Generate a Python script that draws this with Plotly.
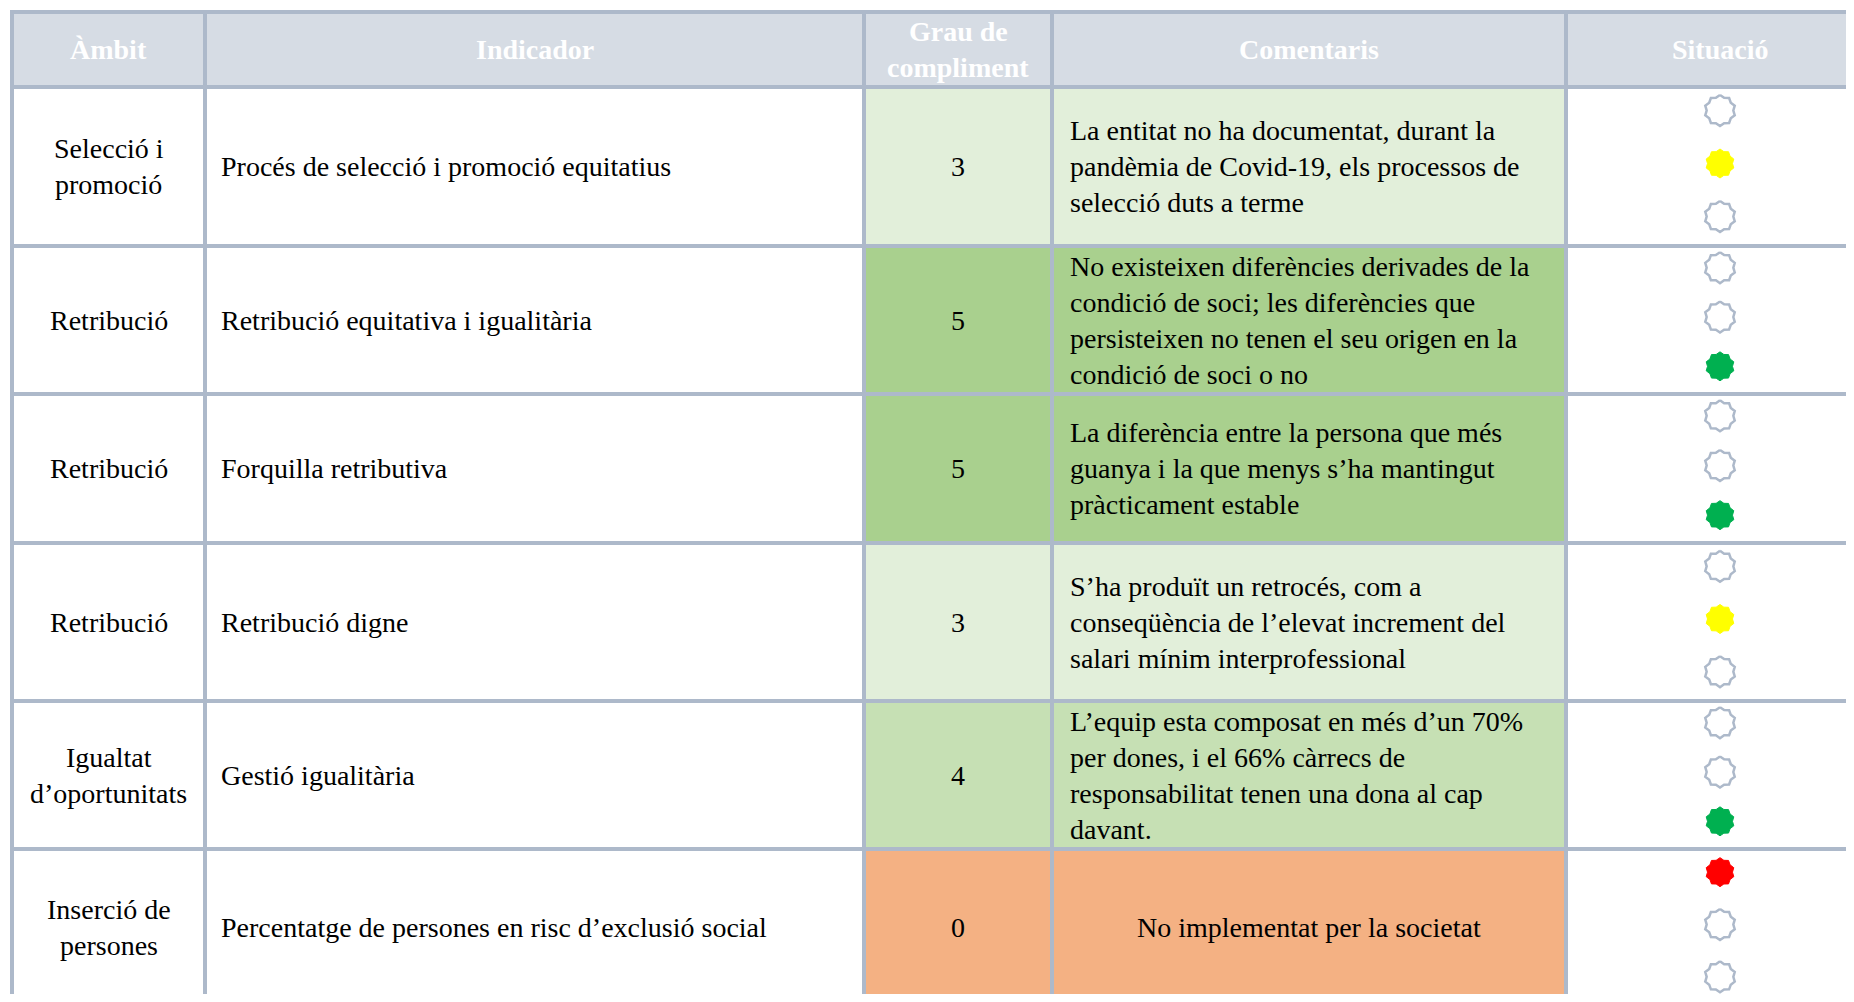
import math
import plotly.graph_objects as go

# ---------------- data ----------------
headers = [["Àmbit"], ["Indicador"], ["Grau de", "compliment"], ["Comentaris"], ["Situació"]]
ambits = [
    ["Selecció i", "promoció"],
    ["Retribució"],
    ["Retribució"],
    ["Retribució"],
    ["Igualtat", "d’oportunitats"],
    ["Inserció de", "persones"],
]
indicadors = [
    "Procés de selecció i promoció equitatius",
    "Retribució equitativa i igualitària",
    "Forquilla retributiva",
    "Retribució digne",
    "Gestió igualitària",
    "Percentatge de persones en risc d’exclusió social",
]
grau = [3, 5, 5, 3, 4, 0]
comentaris = [
    ["La entitat no ha documentat, durant la", "pandèmia de Covid-19, els processos de", "selecció duts a terme"],
    ["No existeixen diferències derivades de la", "condició de soci; les diferències que",
     "persisteixen no tenen el seu origen en la", "condició de soci o no"],
    ["La diferència entre la persona que més", "guanya i la que menys s’ha mantingut", "pràcticament estable"],
    ["S’ha produït un retrocés, com a", "conseqüència de l’elevat increment del", "salari mínim interprofessional"],
    ["L’equip esta composat en més d’un 70%", "per dones, i el 66% càrrecs de",
     "responsabilitat tenen una dona al cap", "davant."],
    ["No implementat per la societat"],
]
comment_centered = [False, False, False, False, False, True]
# traffic light: 0 = top (red), 1 = middle (yellow), 2 = bottom (green)
situacio = [1, 2, 2, 1, 2, 0]

# ---------------- layout constants ----------------
W, H = 1854, 1002
OFF = 8  # page body margin
FW, FH = W - 2 * OFF, H - 2 * OFF
col_edges = [12, 205, 864, 1052, 1566, 1900]
row_edges = [12, 87, 246, 394, 543, 701, 849, 1006]
border_col = "#adb9ca"
header_fill = "#d6dce4"
grau_colors = {0: "#f4b183", 3: "#e2efda", 4: "#c6e0b4", 5: "#a9d08e"}
light_colors = ["#ff0000", "#ffff00", "#00b050"]
FONT = "Liberation Serif"
FS = 28
LINE = 36

fig = go.Figure()
shapes = []
annos = []


def rect(x0, x1, y0, y1, color):
    shapes.append(dict(type="rect", xref="x", yref="y", x0=x0, x1=x1, y0=y0, y1=y1,
                       fillcolor=color, line=dict(width=0), layer="below"))


def lines_text(lines, x, yc, anchor, color="black", bold=False):
    n = len(lines)
    for i, t in enumerate(lines):
        y = yc + (i - (n - 1) / 2) * LINE
        annos.append(dict(x=x, y=y, xref="x", yref="y", text=("<b>%s</b>" % t) if bold else t,
                          showarrow=False, xanchor=anchor, yanchor="middle",
                          font=dict(family=FONT, size=FS, color=color)))


# header
rect(col_edges[0], col_edges[-1], row_edges[0], row_edges[1], header_fill)
hc = (row_edges[0] + row_edges[1]) / 2
for j, h in enumerate(headers):
    xc = (col_edges[j] + col_edges[j + 1]) / 2
    if j == len(headers) - 1:
        xc = 1720
    lines_text(h, xc, hc, "center", color="white", bold=True)

# body rows
for i in range(len(indicadors)):
    y0, y1 = row_edges[i + 1], row_edges[i + 2]
    yc = (y0 + y1) / 2
    c = grau_colors[grau[i]]
    rect(col_edges[2], col_edges[4], y0, y1, c)
    lines_text(ambits[i], (col_edges[0] + col_edges[1]) / 2, yc, "center")
    lines_text([indicadors[i]], col_edges[1] + 14, yc, "left")
    lines_text([str(grau[i])], (col_edges[2] + col_edges[3]) / 2, yc, "center")
    if comment_centered[i]:
        lines_text(comentaris[i], (col_edges[3] + col_edges[4]) / 2, yc, "center")
    else:
        lines_text(comentaris[i], col_edges[3] + 16, yc, "left")

    # traffic-light stars
    sub = (y1 - y0) / 3
    for k in range(3):
        cy = y0 + sub * (k + 0.5) - 3
        cx = 1720
        filled = (situacio[i] == k)
        ro = 14.5 if filled else 15.5
        ri = ro * 0.86
        xs, ys = [], []
        for p in range(21):
            ang = -math.pi / 2 + p * math.pi / 10
            r = ro if p % 2 == 0 else ri
            xs.append(cx + r * math.cos(ang))
            ys.append(cy + r * math.sin(ang))
        if filled:
            fig.add_trace(go.Scatter(x=xs, y=ys, mode="lines", fill="toself",
                                     fillcolor=light_colors[k],
                                     line=dict(color=light_colors[k], width=1),
                                     hoverinfo="skip", showlegend=False))
        else:
            fig.add_trace(go.Scatter(x=xs, y=ys, mode="lines", fill="toself",
                                     fillcolor="white",
                                     line=dict(color=border_col, width=2.5),
                                     hoverinfo="skip", showlegend=False))

# grid lines
for x in col_edges[:-1]:
    shapes.append(dict(type="line", xref="x", yref="y", x0=x, x1=x, y0=row_edges[0], y1=row_edges[-1] + 10,
                       line=dict(color=border_col, width=4), layer="above"))
for y in row_edges[:-1]:
    shapes.append(dict(type="line", xref="x", yref="y", x0=col_edges[0] - 2, x1=col_edges[-1], y0=y, y1=y,
                       line=dict(color=border_col, width=4), layer="above"))

fig.update_layout(
    width=FW, height=FH, margin=dict(l=0, r=0, t=0, b=0),
    paper_bgcolor="white", plot_bgcolor="white",
    xaxis=dict(range=[OFF, OFF + FW], visible=False, fixedrange=True),
    yaxis=dict(range=[OFF + FH, OFF], visible=False, fixedrange=True),
    shapes=shapes, annotations=annos, showlegend=False,
)
fig.write_html("out.html")
